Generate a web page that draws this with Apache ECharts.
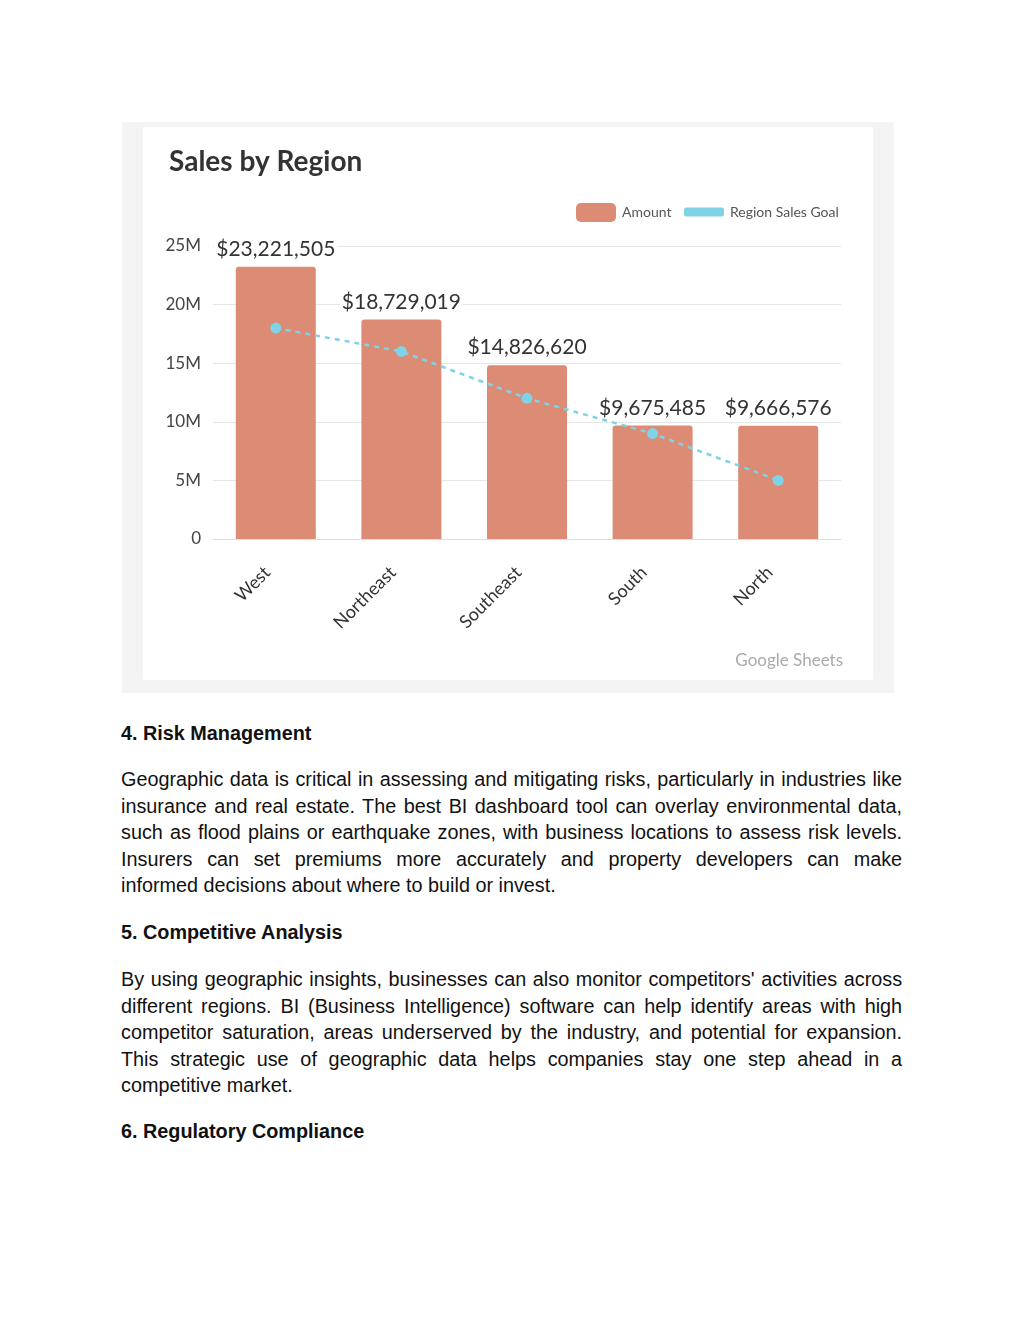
<!DOCTYPE html>
<html>
<head>
<meta charset="utf-8">
<script src="https://cdn.jsdelivr.net/npm/echarts@6/dist/echarts.min.js"></script>
<style>
  html, body { margin: 0; padding: 0; background: #fff; }
  body { width: 1024px; height: 1325px; position: relative; overflow: hidden; }
  #frame { position: absolute; left: 122px; top: 122px; width: 772px; height: 571px; background: #f4f4f4; }
  #card { position: absolute; left: 143px; top: 127px; width: 730px; height: 553px; background: #fff; border-radius: 2px; }
  #chart { position: absolute; left: 143px; top: 127px; width: 730px; height: 553px; }
  .blk { position: absolute; left: 121px; width: 789px; transform: scaleX(0.99); transform-origin: 0 0;
         font-family: "Liberation Sans", Arial, sans-serif; font-size: 20px; line-height: 26.5px; color: #111; }
  .blk .l { white-space: nowrap; text-align: justify; text-align-last: justify; }
  .blk .e { white-space: nowrap; text-align: left; }
  .blk.h { font-weight: bold; }
</style>
</head>
<body>
<div id="frame"></div>
<div id="card"></div>
<div id="chart"></div>

<div class="blk h" style="top:720px">4. Risk Management</div>
<div class="blk" style="top:766px">
  <div class="l">Geographic data is critical in assessing and mitigating risks, particularly in industries like</div>
  <div class="l">insurance and real estate. The best BI dashboard tool can overlay environmental data,</div>
  <div class="l">such as flood plains or earthquake zones, with business locations to assess risk levels.</div>
  <div class="l">Insurers can set premiums more accurately and property developers can make</div>
  <div class="e">informed decisions about where to build or invest.</div>
</div>
<div class="blk h" style="top:919px">5. Competitive Analysis</div>
<div class="blk" style="top:966px">
  <div class="l">By using geographic insights, businesses can also monitor competitors' activities across</div>
  <div class="l">different regions. BI (Business Intelligence) software can help identify areas with high</div>
  <div class="l">competitor saturation, areas underserved by the industry, and potential for expansion.</div>
  <div class="l">This strategic use of geographic data helps companies stay one step ahead in a</div>
  <div class="e">competitive market.</div>
</div>
<div class="blk h" style="top:1118px">6. Regulatory Compliance</div>

<script>
const categories = ['West', 'Northeast', 'Southeast', 'South', 'North'];
const amountValues = [23221505, 18729019, 14826620, 9675485, 9666576];
const goalValues = [18000000, 16000000, 12000000, 9000000, 5000000];
const yMin = 0, yMax = 25000000, yStep = 5000000;

const chart = echarts.init(document.getElementById('chart'));
const fmtMoney = v => '$' + Number(v).toLocaleString('en-US');
const fmtAxis = v => v === 0 ? '0' : (v / 1000000) + 'M';

chart.setOption({
  animation: false,
  textStyle: { fontFamily: 'Lato, "Open Sans", sans-serif' },
  title: {
    text: 'Sales by Region', left: 21, top: 16,
    textStyle: { fontSize: 28, fontWeight: 'bold', color: '#333', fontFamily: 'Lato, sans-serif' }
  },
  legend: [
    {
      data: [{ name: 'Amount', icon: 'roundRect' }],
      left: 428, top: 71, itemWidth: 40, itemHeight: 19, itemGap: 10,
      textStyle: { fontSize: 14, color: '#555', padding: [0, 0, 0, 1] }
    },
    {
      data: [{ name: 'Region Sales Goal', icon: 'roundRect' }],
      left: 536, top: 73, itemWidth: 40, itemHeight: 9, itemGap: 10,
      textStyle: { fontSize: 14, color: '#555', padding: [0, 0, 0, 1] }
    }
  ],
  grid: { left: 70, right: 32, top: 119, bottom: 141 },
  xAxis: {
    type: 'category', data: categories,
    axisLine: { lineStyle: { color: '#dcdcdc' } },
    axisTick: { show: false },
    axisLabel: { rotate: 45, fontSize: 18, color: '#333', margin: 22, padding: [0, 12, 0, 0] }
  },
  yAxis: {
    type: 'value', min: yMin, max: yMax, interval: yStep,
    axisLabel: { formatter: fmtAxis, fontSize: 17, color: '#444', margin: 12 },
    axisLine: { show: false }, axisTick: { show: false },
    splitLine: { lineStyle: { color: '#e6e6e6' } }
  },
  series: [
    {
      name: 'Amount', type: 'bar', data: amountValues, barWidth: 80, z: 2,
      itemStyle: { color: '#dc8b74', borderRadius: [3, 3, 0, 0] },
      label: {
        show: true, position: 'top', distance: 6, formatter: p => fmtMoney(p.value),
        fontSize: 21, color: '#333', backgroundColor: '#fff', padding: [1, 2]
      }
    },
    {
      name: 'Region Sales Goal', type: 'line', data: goalValues, z: 3,
      symbol: 'circle', symbolSize: 11,
      itemStyle: { color: '#80d2e6' },
      lineStyle: { color: '#80d2e6', width: 2.5, type: [5, 5] }
    }
  ],
  graphic: [
    { type: 'text', right: 30, top: 525, style: { text: 'Google Sheets', font: '17px Lato, sans-serif', fill: '#aaa' } }
  ]
});
</script>
</body>
</html>
